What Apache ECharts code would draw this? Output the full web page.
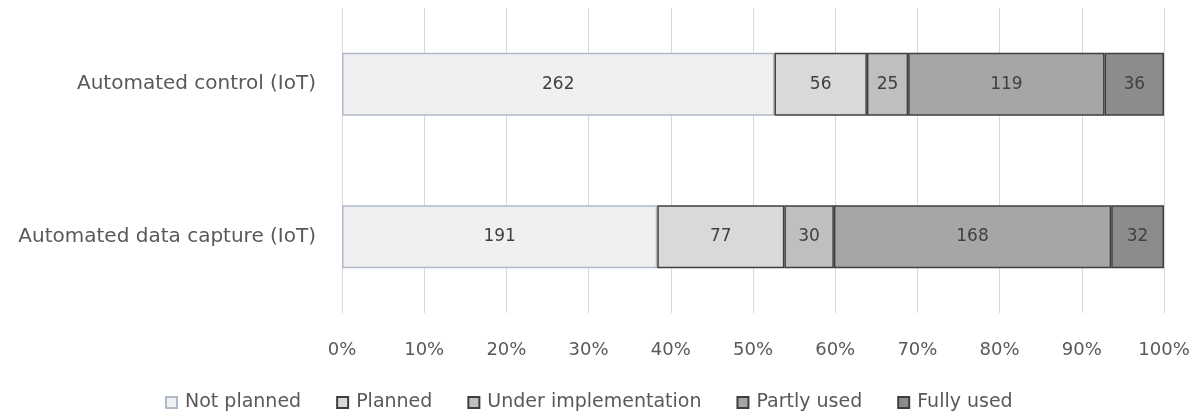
<!DOCTYPE html>
<html>
<head>
<meta charset="utf-8">
<title>IoT usage</title>
<script src="https://cdn.jsdelivr.net/npm/echarts@6/dist/echarts.min.js"></script>
<style>
  html, body { margin: 0; padding: 0; background: #fff; }
  #main { width: 1200px; height: 414px; }
</style>
</head>
<body>
<div id="main"></div>
<script type="text/javascript">
// categories, top to bottom
var categories = ['Automated control (IoT)', 'Automated data capture (IoT)'];
var seriesNames = ['Not planned', 'Planned', 'Under implementation', 'Partly used', 'Fully used'];
// counts per series, one entry per category
var notPlanned = [262, 191];
var planned = [56, 77];
var underImpl = [25, 30];
var partlyUsed = [119, 168];
var fullyUsed = [36, 32];
var xTicks = ['0%', '10%', '20%', '30%', '40%', '50%', '60%', '70%', '80%', '90%', '100%'];

var counts = [notPlanned, planned, underImpl, partlyUsed, fullyUsed];
var fills = ['#f0f0f0', '#d9d9d9', '#bfbfbf', '#a6a6a6', '#8c8c8c'];
var borders = ['#aeb9cc', '#3f3f3f', '#3f3f3f', '#3f3f3f', '#3f3f3f'];
var FONT = '"DejaVu Sans", "Open Sans", sans-serif';

// totals -> percent share for bar widths, label shows the count
var totals = categories.map(function (c, i) {
  return counts.reduce(function (s, arr) { return s + arr[i]; }, 0);
});

var series = seriesNames.map(function (name, k) {
  return {
    name: name,
    type: 'bar',
    stack: 'all',
    barWidth: 63,
    itemStyle: { color: fills[k], borderColor: borders[k], borderWidth: 1.5 },
    label: {
      show: true,
      position: 'inside',
      color: '#404040',
      fontFamily: FONT,
      fontSize: 17,
      formatter: function (p) { return counts[k][p.dataIndex]; }
    },
    data: counts[k].map(function (v, i) { return v / totals[i] * 100; })
  };
});

var option = {
  animation: false,
  grid: { left: 342, right: 36, top: 8, bottom: 101, containLabel: false },
  legend: {
    top: 388,
    left: 160,
    itemWidth: 11,
    itemHeight: 11,
    itemGap: 35,
    icon: 'rect',
    textStyle: { color: '#595959', fontFamily: FONT, fontSize: 19, padding: [0, 0, 0, 3] },
    data: seriesNames
  },
  xAxis: {
    type: 'value',
    min: 0,
    max: 100,
    interval: 10,
    axisLine: { show: false },
    axisTick: { show: false },
    splitLine: { lineStyle: { color: '#d9d9d9', width: 1 } },
    axisLabel: {
      margin: 28,
      color: '#595959',
      fontFamily: FONT,
      fontSize: 18,
      formatter: function (v) { return xTicks[Math.round(v / 10)]; }
    }
  },
  yAxis: {
    type: 'category',
    inverse: true,
    data: categories,
    axisLine: { show: false },
    axisTick: { show: false },
    axisLabel: { margin: 26, color: '#595959', fontFamily: FONT, fontSize: 20 }
  },
  series: series
};

echarts.init(document.getElementById('main')).setOption(option);
</script>
</body>
</html>
